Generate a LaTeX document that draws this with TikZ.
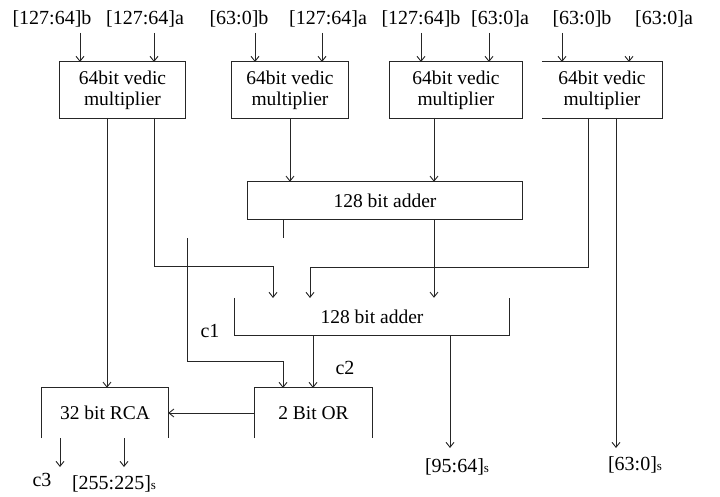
\documentclass[tikz,border=0pt]{standalone}
\usepackage{fontspec}
\setmainfont{Liberation Serif}
\usetikzlibrary{arrows.meta,calc}
\begin{document}
\begin{tikzpicture}[x=1pt,y=-1pt,
  ln/.style={line width=0.9pt, draw=black!85},
  arr/.style={ln,-{Straight Barb[length=5pt,width=8pt]}},
  blk/.style={inner sep=0pt, align=center, font=\fontsize{19.5}{21}\selectfont},
  lbl/.style={inner sep=0pt, font=\fontsize{20}{22}\selectfont, anchor=base},
  sub/.style={font=\fontsize{13}{13}\selectfont}
]
\useasboundingbox[fill=white] (0,0) rectangle (720,497);

% top labels
\node[lbl] (L1) at (52,25) {[127:64]b};
\node[lbl] (L2) at (145,25) {[127:64]a};
\node[lbl] (L3) at (239,25) {[63:0]b};
\node[lbl] (L4) at (328,25) {[127:64]a};
\node[lbl] (L5) at (421,25) {[127:64]b};
\node[lbl] (L6) at (500,25) {[63:0]a};
\node[lbl] (L7) at (582,25) {[63:0]b};
\node[lbl] (L8) at (664,25) {[63:0]a};

% blocks
\node[blk, minimum width=125pt, minimum height=56pt] (m1) at (122.5,90) {64bit vedic\\multiplier};
\node[blk, minimum width=116pt, minimum height=56pt] (m2) at (290,90) {64bit vedic\\multiplier};
\node[blk, minimum width=132pt, minimum height=56pt] (m3) at (456,90) {64bit vedic\\multiplier};
\node[blk, minimum width=120pt, minimum height=56pt] (m4) at (602,90) {64bit vedic\\multiplier};
\node[blk, minimum width=274pt, minimum height=37pt] (a1) at (385,200.5) {128 bit adder};
\node[blk, minimum width=274pt, minimum height=37pt] (a2) at (372,316.5) {128 bit adder};
\node[blk, minimum width=117pt, minimum height=50pt] (or) at (313.5,413) {2 Bit OR};
\node[blk, minimum width=126pt, minimum height=50pt] (rca) at (105,413) {32 bit RCA};

\draw[ln] (m1.north west) rectangle (m1.south east);
\draw[ln] (m2.north west) rectangle (m2.south east);
\draw[ln] (m3.north west) rectangle (m3.south east);
\draw[ln] (m4.north west) -- (m4.north east) -- (m4.south east) -- (m4.south west);
\draw[ln] (a1.north west) rectangle (a1.south east);
\draw[ln] (a2.north west) -- (a2.south west) -- (a2.south east) -- (a2.north east);
\draw[ln] (or.south west) -- (or.north west) -- (or.north east) -- (or.south east);
\draw[ln] (rca.south west) -- (rca.north west) -- (rca.north east) -- (rca.south east);

% input ports
\coordinate (p1) at (80,62);
\coordinate (p2) at (154,62);
\coordinate (p3) at (255,62);
\coordinate (p4) at (322,62);
\coordinate (p5) at (421,62);
\coordinate (p6) at (489,62);
\coordinate (p7) at (562,62);
\coordinate (p8) at (629,62);
\foreach \i in {1,...,7}{\draw[arr] ($(L\i.base -| p\i)+(0,8)$) -- (p\i);}
\draw[arr] ($(p8)+(0,-6)$) -- (p8);

% outputs of multipliers
\coordinate (o1a) at (107,118);
\coordinate (o1b) at (154,118);
\coordinate (o3) at (434,118);
\coordinate (o4a) at (588,118);
\coordinate (o4b) at (616,118);
\coordinate (t1) at (273,298);
\coordinate (t2) at (310,298);

\draw[arr] (o1a) -- (o1a |- rca.north);
\draw[arr] (o1b) -- (154,266) -- (t1 |- 0,266) -- (t1);
\draw[arr] (m2.south) -- (m2.south |- a1.north);
\draw[arr] (o3) -- (o3 |- a1.north);
\draw[arr] (o4a) -- (588,267) -- (t2 |- 0,267) -- (t2);
\coordinate (s4) at (616,448);
\draw[arr] (o4b) -- (s4);
\draw[arr] (a1.south -| o3) -- (o3 |- a2.north);

% stub below adder 1
\draw[ln] (a1.south -| 283,0) -- (283,238);

% c1
\coordinate (c1top) at (187,238);
\draw[arr] (c1top) -- (187,361) -- (283,361) -- (283,388);
\node[lbl] (c1) at (210,337) {c1};

% c2
\draw[arr] (313,335) -- (313,388);
\node[lbl] (c2) at (345,374) {c2};

% adder 2 output
\coordinate (s2) at (450,448);
\draw[arr] (450,335) -- (s2);

% OR to RCA
\draw[arr] (or.west) -- (rca.east);

% RCA outputs
\draw[arr] (60,438) -- (60,467);
\draw[arr] (124,438) -- (124,467);

% output labels
\node[lbl] (c3) at (42,486) {c3};
\node[lbl] (o255) at (114,489) {[255:225]{\fontsize{13}{13}\selectfont s}};
\node[lbl] (o95) at (457,472) {[95:64]{\fontsize{13}{13}\selectfont s}};
\node[lbl] (o63) at (635,470) {[63:0]{\fontsize{13}{13}\selectfont s}};
\end{tikzpicture}
\end{document}
